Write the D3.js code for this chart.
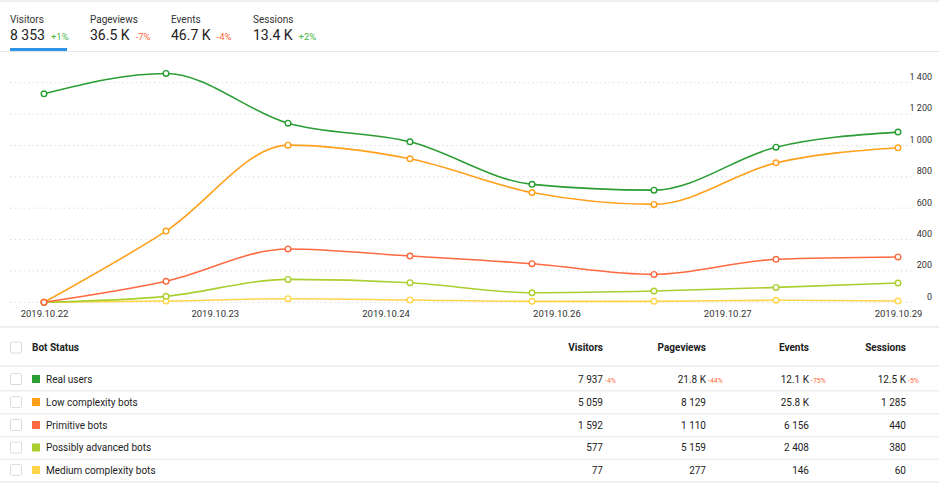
<!DOCTYPE html>
<html lang="en">
<head>
<meta charset="UTF-8">
<title>Bot Status</title>
<script src="https://d3js.org/d3.v7.min.js"></script>
<style>
  body { margin: 0; background: #fff; font-family: Roboto, "Noto Sans", sans-serif; }
  svg text { font-family: Roboto, "Noto Sans", sans-serif; }
</style>
</head>
<body>
<svg id="chart"></svg>
<script>
// tabs above the chart
var tabNames = ["Visitors", "Pageviews", "Events", "Sessions"];
var tabValues = ["8 353", "36.5 K", "46.7 K", "13.4 K"];
var tabChanges = ["+1%", "-7%", "-4%", "+2%"];

// chart data
var points = ["p1", "p2", "p3", "p4", "p5", "p6", "p7", "p8"];
var tickLabels = ["2019.10.22", "2019.10.23", "2019.10.24", "2019.10.26", "2019.10.27", "2019.10.29"];
var yTicks = [0, 200, 400, 600, 800, 1000, 1200, 1400];

var seriesNames = ["Real users", "Low complexity bots", "Primitive bots", "Possibly advanced bots", "Medium complexity bots"];
var seriesColors = ["#2a9d34", "#ffa01c", "#ff6941", "#aacf2f", "#ffd54a"];
var realUsers = [1329, 1459, 1142, 1023, 752, 715, 989, 1085];
var lowBots = [0, 454, 1002, 915, 700, 624, 889, 985];
var primitiveBots = [0, 134, 340, 295, 246, 178, 274, 289];
var advancedBots = [0, 38, 146, 125, 61, 72, 95, 123];
var mediumBots = [0, 8, 23, 15, 6, 6, 13, 8];
var seriesValues = [realUsers, lowBots, primitiveBots, advancedBots, mediumBots];

// table data
var columns = ["Visitors", "Pageviews", "Events", "Sessions"];
var colVisitors = ["7 937", "5 059", "1 592", "577", "77"];
var colPageviews = ["21.8 K", "8 129", "1 110", "5 159", "277"];
var colEvents = ["12.1 K", "25.8 K", "6 156", "2 408", "146"];
var colSessions = ["12.5 K", "1 285", "440", "380", "60"];
var firstRowChanges = ["-4%", "-44%", "-75%", "-5%"];
var tableCols = [colVisitors, colPageviews, colEvents, colSessions];

var W = 939, H = 489;
var svg = d3.select("#chart").attr("width", W).attr("height", H);

// top border
svg.append("rect").attr("x", 0).attr("y", 0).attr("width", W).attr("height", 2).attr("fill", "#eeeeee");

// tabs
var tabX = [10, 90, 171, 253];
tabNames.forEach(function (n, i) {
  svg.append("text").attr("x", tabX[i]).attr("y", 23)
    .attr("font-size", 10).attr("fill", "#333").text(n);
  var t = svg.append("text").attr("x", tabX[i]).attr("y", 40)
    .attr("font-size", 14).attr("fill", "#222");
  t.append("tspan").text(tabValues[i]);
  t.append("tspan").attr("dx", 6).attr("font-size", 9.5)
    .attr("fill", tabChanges[i][0] === "+" ? "#4cb848" : "#ff6a3d")
    .text(tabChanges[i]);
});
svg.append("rect").attr("x", 0).attr("y", 51).attr("width", W).attr("height", 1).attr("fill", "#e6e6e6");
svg.append("rect").attr("x", 10).attr("y", 48).attr("width", 57).attr("height", 3).attr("fill", "#2f93e8");

// scales
var x = d3.scalePoint().domain(points).range([44, 898]);
var xt = d3.scalePoint().domain(tickLabels).range([44, 898]);
var y = d3.scaleLinear().domain([0, 1400]).range([302.3, 82.7]);

// grid
svg.append("g").selectAll("line").data(yTicks).enter().append("line")
  .attr("x1", 10).attr("x2", 912)
  .attr("y1", function (d) { return y(d); }).attr("y2", function (d) { return y(d); })
  .attr("stroke", "#dedede").attr("stroke-dasharray", "1.5,3");

// right axis labels
var fmt = function (d) { return d3.format(",")(d).replace(/,/g, " "); };
var yAxis = svg.append("g").attr("transform", "translate(932,-6)")
  .call(d3.axisRight(y).tickValues(yTicks).tickSize(0).tickPadding(0).tickFormat(fmt));
yAxis.select(".domain").remove();
yAxis.selectAll("text").attr("text-anchor", "end").attr("font-size", 9)
  .attr("fill", "#333").attr("font-family", "Roboto, sans-serif");

// bottom axis labels
var xAxis = svg.append("g").attr("transform", "translate(0,310)")
  .call(d3.axisBottom(xt).tickSize(0).tickPadding(0));
xAxis.select(".domain").remove();
xAxis.selectAll("text").attr("font-size", 9.5).attr("fill", "#333")
  .attr("font-family", "Roboto, sans-serif");

// lines
var line = d3.line()
  .x(function (d, i) { return x(points[i]); })
  .y(function (d) { return y(d); })
  .curve(d3.curveMonotoneX);

var order = [4, 3, 1, 0, 2];
order.forEach(function (s) {
  var g = svg.append("g");
  g.append("path").datum(seriesValues[s]).attr("d", line)
    .attr("fill", "none").attr("stroke", seriesColors[s]).attr("stroke-width", 1.6);
  g.selectAll("circle").data(seriesValues[s]).enter().append("circle")
    .attr("cx", function (d, i) { return x(points[i]); })
    .attr("cy", function (d) { return y(d); })
    .attr("r", 2.8).attr("fill", "#fff")
    .attr("stroke", seriesColors[s]).attr("stroke-width", 1.4);
});

// table
svg.append("rect").attr("x", 0).attr("y", 326).attr("width", W).attr("height", 2).attr("fill", "#eeeeee");

function checkbox(cy) {
  svg.append("rect").attr("x", 10.5).attr("y", cy - 5.5).attr("width", 11).attr("height", 11)
    .attr("rx", 1).attr("fill", "#fff").attr("stroke", "#dcdcdc");
}

var colRight = [603, 706, 809, 906];
checkbox(347.5);
svg.append("text").attr("x", 32).attr("y", 351).attr("font-size", 10)
  .attr("font-weight", "bold").attr("fill", "#222").text("Bot Status");
columns.forEach(function (c, i) {
  svg.append("text").attr("x", colRight[i]).attr("y", 351).attr("text-anchor", "end")
    .attr("font-size", 10).attr("font-weight", "bold").attr("fill", "#222").text(c);
});
svg.append("rect").attr("x", 0).attr("y", 365).attr("width", W).attr("height", 2).attr("fill", "#f0f0f0");

var rowY = [379, 402, 425, 447.5, 470];
seriesNames.forEach(function (n, r) {
  var cy = rowY[r];
  checkbox(cy);
  svg.append("rect").attr("x", 32).attr("y", cy - 4).attr("width", 8).attr("height", 8)
    .attr("fill", seriesColors[r]);
  svg.append("text").attr("x", 46).attr("y", cy + 3.5).attr("font-size", 10)
    .attr("fill", "#222").text(n);
  tableCols.forEach(function (col, i) {
    svg.append("text").attr("x", colRight[i]).attr("y", cy + 3.5).attr("text-anchor", "end")
      .attr("font-size", 10).attr("fill", "#222").text(col[r]);
    if (r === 0) {
      svg.append("text").attr("x", colRight[i] + 2).attr("y", cy + 3.5)
        .attr("font-size", 7).attr("fill", "#ff6a3d").text(firstRowChanges[i]);
    }
  });
  svg.append("rect").attr("x", 0).attr("y", cy + 11).attr("width", W).attr("height", 1.5)
    .attr("fill", "#eeeeee");
});
</script>
</body>
</html>
